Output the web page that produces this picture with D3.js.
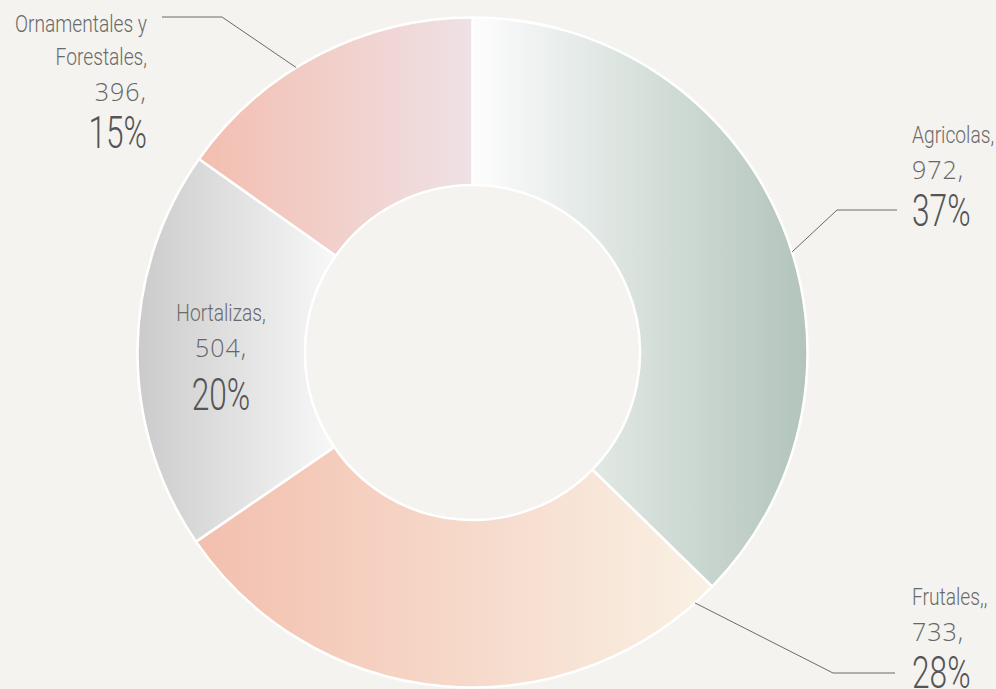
<!DOCTYPE html>
<html>
<head>
<meta charset="utf-8">
<script src="https://cdn.jsdelivr.net/npm/d3@7"></script>
<style>
  html, body { margin: 0; padding: 0; background: #f4f3ef; }
  svg { display: block; }
</style>
</head>
<body>
<div id="chart"></div>
<script>
// data
const categories = ['Agricolas', 'Frutales', 'Hortalizas', 'Ornamentales y Forestales'];
const values = [972, 733, 504, 396];
const pctLabels = ['37%', '28%', '20%', '15%'];
const nameLines = [['Agricolas,'], ['Frutales,,'], ['Hortalizas,'], ['Ornamentales y', 'Forestales,']];

// gradient stops per slice (left -> right)
const gradLeft = ['#fdfdfd', '#f3bfae', '#cbcbcb', '#f3beb0'];
const gradRight = ['#b2c4bb', '#f9f1e4', '#f8f8f8', '#efe1e5'];

let dim = { width: 996, height: 689 };
let cx = 472.5, cy = 352.5, rOut = 335, rIn = 167.5;

let svg = d3.select('#chart').append('svg')
    .attr('width', dim.width)
    .attr('height', dim.height);

let defs = svg.append('defs');
categories.forEach(function(c, i){
    let lg = defs.append('linearGradient')
        .attr('id', 'grad' + i)
        .attr('x1', 0).attr('y1', 0).attr('x2', 1).attr('y2', 0);
    lg.append('stop').attr('offset', 0).attr('stop-color', gradLeft[i]);
    lg.append('stop').attr('offset', 1).attr('stop-color', gradRight[i]);
});

let pie = d3.pie().sort(null).value(d => d);
let arcs = pie(values);
let arc = d3.arc().innerRadius(rIn).outerRadius(rOut);

let g = svg.append('g').attr('transform', 'translate(' + cx + ',' + cy + ')');

g.selectAll('path.slice')
    .data(arcs)
    .join('path')
    .attr('class', 'slice')
    .attr('d', arc)
    .attr('fill', (d, i) => 'url(#grad' + i + ')')
    .attr('stroke', '#ffffff')
    .attr('stroke-width', 2.5);

// label layout: where the leader leaves the ring (fraction along slice), elbow and text anchor
let layout = [
    { frac: 0.54, elbow: [837, 210], end: [897, 210], tx: 912, ty: 143, anchor: 'start' },
    { frac: 0.04, elbow: [833, 673], end: [895, 673], tx: 912, ty: 605, anchor: 'start' },
    { frac: null, tx: 221, ty: 321, anchor: 'middle' },
    { frac: 0.42, elbow: [222, 17], end: [162, 17], tx: 147, ty: 32, anchor: 'end' }
];

let ringPoint = function(a){
    return [cx + rOut * Math.sin(a), cy - rOut * Math.cos(a)];
};

let labels = svg.append('g');

arcs.forEach(function(d, i){
    let L = layout[i];
    if (L.frac !== null) {
        let a = d.startAngle + (d.endAngle - d.startAngle) * L.frac;
        let p = ringPoint(a);
        labels.append('path')
            .attr('d', d3.line()([p, L.elbow, L.end]))
            .attr('fill', 'none')
            .attr('stroke', '#6a6a6a')
            .attr('stroke-width', 1);
    }

    let y = L.ty;
    let lines = nameLines[i];
    lines.forEach(function(t, k){
        let yy = y + k * 33;
        labels.append('text')
            .attr('transform', 'translate(' + L.tx + ',' + yy + ') scale(0.8,1)')
            .attr('text-anchor', L.anchor)
            .attr('font-family', 'Roboto, sans-serif')
            .attr('font-weight', 300)
            .attr('font-size', 24)
            .attr('fill', '#6a6a6a')
            .text(t);
    });
    let yNum = y + (lines.length - 1) * 33 + 36;
    labels.append('text')
        .attr('x', L.tx)
        .attr('y', yNum)
        .attr('text-anchor', L.anchor)
        .attr('font-family', '"Open Sans", sans-serif')
        .attr('font-weight', 300)
        .attr('font-size', 25)
        .attr('letter-spacing', 1)
        .attr('fill', '#666666')
        .text(values[i] + ',');
    labels.append('text')
        .attr('transform', 'translate(' + L.tx + ',' + (yNum + (i === 2 ? 53 : 47)) + ') scale(0.72,1)')
        .attr('text-anchor', L.anchor)
        .attr('font-family', 'Roboto, sans-serif')
        .attr('font-weight', 300)
        .attr('font-size', 44)
        .attr('fill', '#555555')
        .text(pctLabels[i]);
});
</script>
</body>
</html>
